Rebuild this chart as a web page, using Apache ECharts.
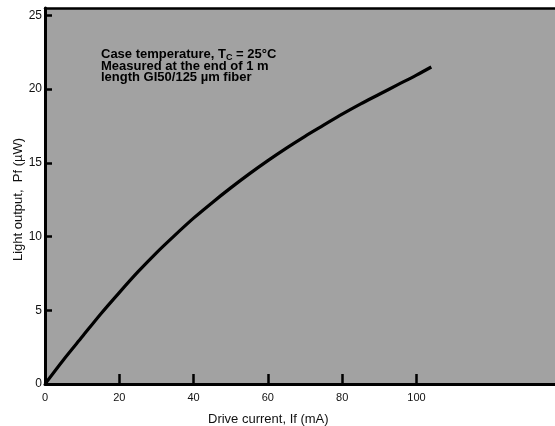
<!DOCTYPE html>
<html>
<head>
<meta charset="utf-8">
<script src="https://cdn.jsdelivr.net/npm/echarts@6/dist/echarts.min.js"></script>
<style>
html,body{margin:0;padding:0;background:#fff;}
#chart{width:555px;height:426px;}
</style>
</head>
<body>
<div id="chart"></div>
<script>
// Drive current (mA)
const driveCurrent = [0, 5, 10, 15, 20, 25, 30, 35, 40, 45, 50, 55, 60, 65, 70, 75, 80, 85, 90, 95, 100, 104];
// Light output (µW)
const lightOutput = [0, 1.65, 3.2, 4.75, 6.2, 7.6, 8.9, 10.1, 11.25, 12.3, 13.3, 14.25, 15.15, 16.0, 16.8, 17.55, 18.3, 19.0, 19.65, 20.3, 20.95, 21.5];
const xTicks = [0, 20, 40, 60, 80, 100];
const yTicks = [0, 5, 10, 15, 20, 25];
const xName = 'Drive current, If (mA)';
const yName = 'Light output,  Pf (\u00b5W)';
const noteLines = ['Case temperature, T{s|C} = 25\u00b0C', 'Measured at the end of 1 m', 'length GI50/125 \u00b5m fiber'];

const FONT = 'Liberation Sans, Arial, Helvetica, sans-serif';
const chart = echarts.init(document.getElementById('chart'));
chart.setOption({
  animation: false,
  backgroundColor: '#ffffff',
  title: {
    text: noteLines.join('\n'),
    left: 101,
    top: 49,
    padding: 0,
    textStyle: {
      fontFamily: FONT, fontSize: 13, fontWeight: 'bold', color: '#000', lineHeight: 11.5,
      rich: { s: { fontFamily: FONT, fontSize: 9, fontWeight: 'bold', color: '#000', lineHeight: 11.5, padding: [5, 0, 0, 0] } }
    }
  },
  grid: {
    left: 45, top: 8, bottom: 42, right: 0,
    show: true, backgroundColor: '#a2a2a2', borderWidth: 0
  },
  xAxis: [{
    type: 'value', min: 0, max: 137.3, interval: 20,
    axisLine: { show: true, lineStyle: { color: '#000', width: 3 } },
    axisTick: { show: true, inside: true, length: 10, customValues: [20, 40, 60, 80, 100], lineStyle: { color: '#000', width: 2.5 } },
    splitLine: { show: false },
    axisLabel: {
      margin: 8, fontFamily: FONT, fontSize: 11, color: '#111',
      customValues: xTicks
    }
  }, {
    type: 'value', position: 'top', min: 0, max: 137.3,
    axisLine: { show: true, lineStyle: { color: '#000', width: 2.5 } },
    axisTick: { show: false }, axisLabel: { show: false }, splitLine: { show: false }
  }],
  yAxis: {
    type: 'value', min: 0, max: 25.5, interval: 5,
    axisLine: { show: true, lineStyle: { color: '#000', width: 3 } },
    axisTick: { show: true, inside: true, length: 7, customValues: [5, 10, 15, 20, 25], lineStyle: { color: '#000', width: 2.5 } },
    splitLine: { show: false },
    axisLabel: {
      margin: 3, fontFamily: FONT, fontSize: 12, color: '#111',
      customValues: yTicks
    }
  },
  graphic: [
    { type: 'text', left: 208, top: 413, style: { text: xName, font: '13px ' + FONT, fill: '#111' } },
    { type: 'text', x: 12, y: 261, rotation: Math.PI / 2, style: { text: yName, font: '13px ' + FONT, fill: '#111' } }
  ],
  series: [{
    type: 'line', smooth: 0.3, showSymbol: false, xAxisIndex: 0,
    data: driveCurrent.map((c, i) => [c, lightOutput[i]]),
    lineStyle: { color: '#000', width: 3.2 }
  }]
});
</script>
</body>
</html>
